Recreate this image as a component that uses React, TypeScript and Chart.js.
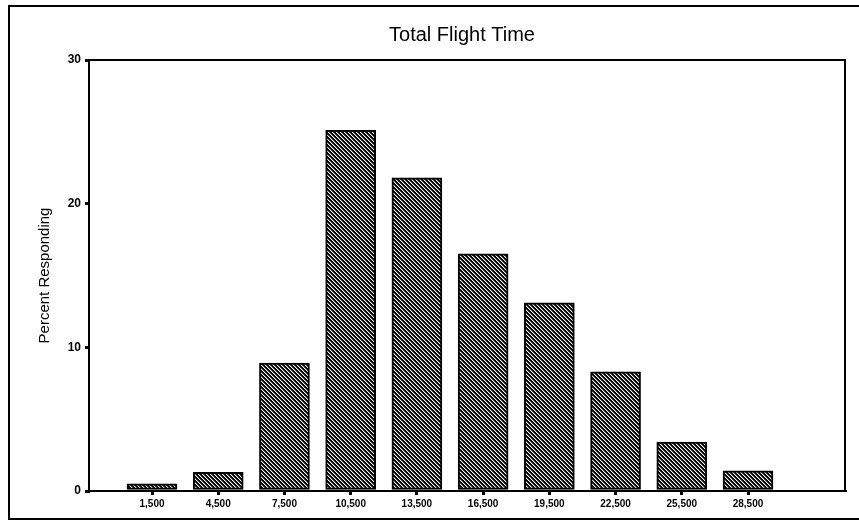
import React, { useEffect, useRef } from "react";
import { Chart, registerables } from "chart.js";

Chart.register(...registerables);

const categories = [1500, 4500, 7500, 10500, 13500, 16500, 19500, 22500, 25500, 28500];
const tickLabels = ["1,500", "4,500", "7,500", "10,500", "13,500", "16,500", "19,500", "22,500", "25,500", "28,500"];
const percentResponding = [0.5, 1.3, 8.9, 25.1, 21.8, 16.5, 13.1, 8.3, 3.4, 1.4];
const yTicks = [0, 10, 20, 30];
const chartTitle = "Total Flight Time";
const yTitle = "Percent Responding";

function makeHatch(): CanvasPattern | string {
  const c = document.createElement("canvas");
  c.width = 4;
  c.height = 4;
  const ctx = c.getContext("2d");
  if (!ctx) return "#333";
  ctx.fillStyle = "#000";
  ctx.fillRect(0, 0, 4, 4);
  for (let i = 0; i < 4; i++) {
    ctx.fillStyle = "#fff";
    ctx.fillRect(i, i, 1, 1);
    ctx.fillStyle = "#555";
    ctx.fillRect((i + 1) % 4, i, 1, 1);
  }
  return ctx.createPattern(c, "repeat") || "#333";
}

export default function App() {
  const ref = useRef<HTMLCanvasElement | null>(null);

  useEffect(() => {
    if (!ref.current) return;
    const hatch = makeHatch();

    const framePlugin = {
      id: "frameAndTitle",
      afterDraw(chart: any) {
        const { ctx, chartArea } = chart;
        ctx.save();
        ctx.strokeStyle = "#000";
        ctx.lineWidth = 2;
        ctx.strokeRect(chartArea.left, chartArea.top, chartArea.right - chartArea.left, chartArea.bottom - chartArea.top);
        ctx.fillStyle = "#000";
        ctx.font = "20px 'Liberation Sans', Arial, sans-serif";
        ctx.textAlign = "center";
        ctx.textBaseline = "middle";
        ctx.fillText(chartTitle, (chartArea.left + chartArea.right) / 2 - 5, 35);
        ctx.restore();
      },
    };

    const chart = new Chart(ref.current, {
      type: "bar",
      data: {
        datasets: [
          {
            data: categories.map((x, i) => ({ x, y: percentResponding[i] })),
            backgroundColor: hatch as any,
            borderColor: "#000",
            borderWidth: 2,
            borderSkipped: false,
            barThickness: 50,
          },
        ],
      },
      options: {
        animation: false,
        responsive: false,
        maintainAspectRatio: false,
        layout: { padding: { left: 0, right: 14, top: 60, bottom: 0 } },
        plugins: {
          legend: { display: false },
          title: { display: false },
          tooltip: { enabled: false },
        },
        scales: {
          x: {
            type: "linear",
            bounds: "data",
            offset: false,
            min: -1354,
            max: 32894,
            afterBuildTicks: (s: any) => {
              s.ticks = categories.map((v) => ({ value: v }));
            },
            afterFit: (s: any) => {
              s.height = 32;
            },
            ticks: {
              autoSkip: false,
              maxRotation: 0,
              padding: 3,
              color: "#000",
              font: { family: "'Liberation Sans', Arial, sans-serif", size: 10, weight: "bold" },
              callback: (v: any) => {
                const i = categories.indexOf(Number(v));
                return i >= 0 ? tickLabels[i] : "";
              },
            },
            grid: { offset: false, drawOnChartArea: false, drawTicks: true, tickLength: 4, color: "#000", lineWidth: 3 },
            border: { display: true, color: "#000", width: 2 },
          },
          y: {
            type: "linear",
            min: 0,
            max: 30,
            afterBuildTicks: (s: any) => {
              s.ticks = yTicks.map((v) => ({ value: v }));
            },
            afterFit: (s: any) => {
              s.width = 89;
            },
            ticks: {
              padding: 4,
              color: "#000",
              font: { family: "'Liberation Sans', Arial, sans-serif", size: 12, weight: "bold" },
            },
            grid: { drawOnChartArea: false, drawTicks: true, tickLength: 4, color: "#000", lineWidth: 3 },
            border: { display: true, color: "#000", width: 2 },
            title: {
              display: true,
              text: yTitle,
              color: "#000",
              font: { family: "'Liberation Sans', Arial, sans-serif", size: 15 },
              padding: { top: 36, bottom: 0 },
            },
          },
        },
      },
      plugins: [framePlugin],
    });
    return () => chart.destroy();
  }, []);

  return (
    <div style={{ position: "absolute", left: 0, top: 0, width: 859, height: 523, background: "#fff", overflow: "hidden" }}>
      <div
        style={{
          position: "absolute",
          left: 8,
          top: 5,
          width: 870,
          height: 515,
          border: "2px solid #000",
          boxSizing: "border-box",
        }}
      />
      <canvas ref={ref} width={859} height={523} style={{ position: "absolute", left: 0, top: 0, width: 859, height: 523 }} />
    </div>
  );
}
